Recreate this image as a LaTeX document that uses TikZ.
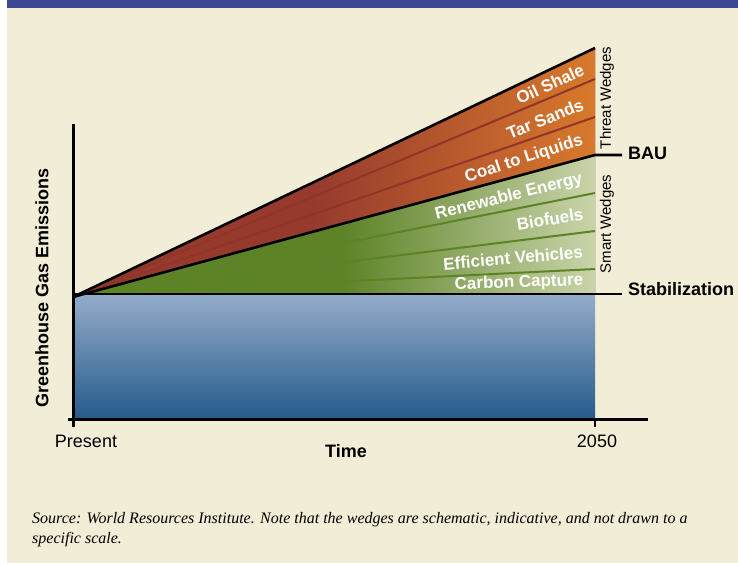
\documentclass[tikz,border=0pt]{standalone}
\usepackage{fontspec}
\setmainfont{Liberation Sans}
\newfontfamily\srcfont{Liberation Serif}
\definecolor{bgcream}{HTML}{F2EDD6}
\definecolor{hdrblue}{HTML}{3B4894}
\definecolor{rdark}{HTML}{963A2E}
\definecolor{rlight}{HTML}{D8792C}
\definecolor{rline}{HTML}{923529}
\definecolor{gdark}{HTML}{5D8227}
\definecolor{glight}{HTML}{C9D4AA}
\definecolor{gline}{HTML}{5B8424}
\definecolor{btop}{HTML}{95ACCA}
\definecolor{bbot}{HTML}{245B8B}
\pgfdeclarehorizontalshading{redwedge}{100bp}{color(0bp)=(rdark); color(48bp)=(rdark); color(75bp)=(rlight); color(100bp)=(rlight)}
\pgfdeclarehorizontalshading{greenwedge}{100bp}{color(0bp)=(gdark); color(50bp)=(gdark); color(75bp)=(glight); color(100bp)=(glight)}
\tikzset{
  wlabel/.style={text=white, font=\bfseries\fontsize{17}{19}\selectfont, inner sep=0pt},
  sidelabel/.style={font=\fontsize{15}{17}\selectfont, rotate=90, inner sep=0pt},
  endlabel/.style={font=\bfseries\fontsize{18}{20}\selectfont, anchor=west, inner sep=0pt},
  axislabel/.style={font=\fontsize{18}{20}\selectfont, inner sep=0pt},
  heavy/.style={line width=2.6pt, black},
  divider/.style={line width=2pt},
}
\begin{document}
\begin{tikzpicture}[x=1pt,y=-1pt]
\useasboundingbox (0,0) rectangle (738,563);
% background
\fill[white] (0,0) rectangle (738,563);
\fill[bgcream] (7,0) rectangle (738,563);
\fill[hdrblue] (7,0) rectangle (738,8);
% key coordinates
\coordinate (apex) at (73,297);
\coordinate (top) at (595,48);
\coordinate (bau) at (595,155);
\coordinate (stab) at (595,294);
\coordinate (stabL) at (88,294);
\coordinate (bauEnd) at (622,155);
\coordinate (stabEnd) at (622,294);
% blue base
\fill[top color=btop, bottom color=bbot] (73,294) rectangle (595,419);
% red wedge
\fill[shading=redwedge] (apex) -- (top) -- (bau) -- cycle;
% green wedge
\fill[shading=greenwedge] (stabL) -- (bau) -- (stab) -- cycle;
% dividers
\draw[divider, rline] (apex) -- (595,79);
\draw[divider, rline] (apex) -- (595,117);
\draw[divider, gline] (stabL) -- (595,193);
\draw[divider, gline] (stabL) -- (595,231);
\draw[divider, gline] (stabL) -- (595,269);
% heavy lines
\draw[heavy] (apex) -- (top);
\draw[heavy] (apex) -- (bau) -- (bauEnd);
\draw[heavy] (73,294) -- (stabEnd);
% axes
\draw[heavy, line width=3pt] (73,124) -- (73,427);
\draw[heavy, line width=3pt] (68,419) -- (648,419);
\draw[heavy, line width=2.4pt] (595,419) -- (595,427);
% wedge labels
\node[wlabel, rotate=25] (oil) at (550,84) {Oil Shale};
\node[wlabel, rotate=22] (tar) at (545,119) {Tar Sands};
\node[wlabel, rotate=18] (ctl) at (524,159) {Coal to Liquids};
\node[wlabel, rotate=14] (ren) at (509,197) {Renewable Energy};
\node[wlabel, rotate=9] (bio) at (550,219) {Biofuels};
\node[wlabel, rotate=5] (eff) at (513,258) {Efficient Vehicles};
\node[wlabel, rotate=2] (ccs) at (519,283) {Carbon Capture};
% side labels
\node[sidelabel] (threat) at (607,98) {Threat Wedges};
\node[sidelabel] (smart) at (607,224) {Smart Wedges};
\node[endlabel] (baulab) at (628,153) {BAU};
\node[endlabel] (stablab) at (628,289) {Stabilization};
% axis labels
\node[axislabel, font=\bfseries\fontsize{18}{20}\selectfont, rotate=90] (ylab) at (42,288) {Greenhouse Gas Emissions};
\node[axislabel] (present) at (86,441) {Present};
\node[axislabel] (y2050) at (597,441) {2050};
\node[axislabel, font=\bfseries\fontsize{18}{20}\selectfont] (time) at (346,451) {Time};
% source
\node[anchor=north west, inner sep=0pt, align=left, font=\srcfont\itshape\fontsize{16}{20}\selectfont] (src) at (32,512)
  {Source: World Resources Institute. Note that the wedges are schematic, indicative, and not drawn to a\\specific scale.};
\end{tikzpicture}
\end{document}
